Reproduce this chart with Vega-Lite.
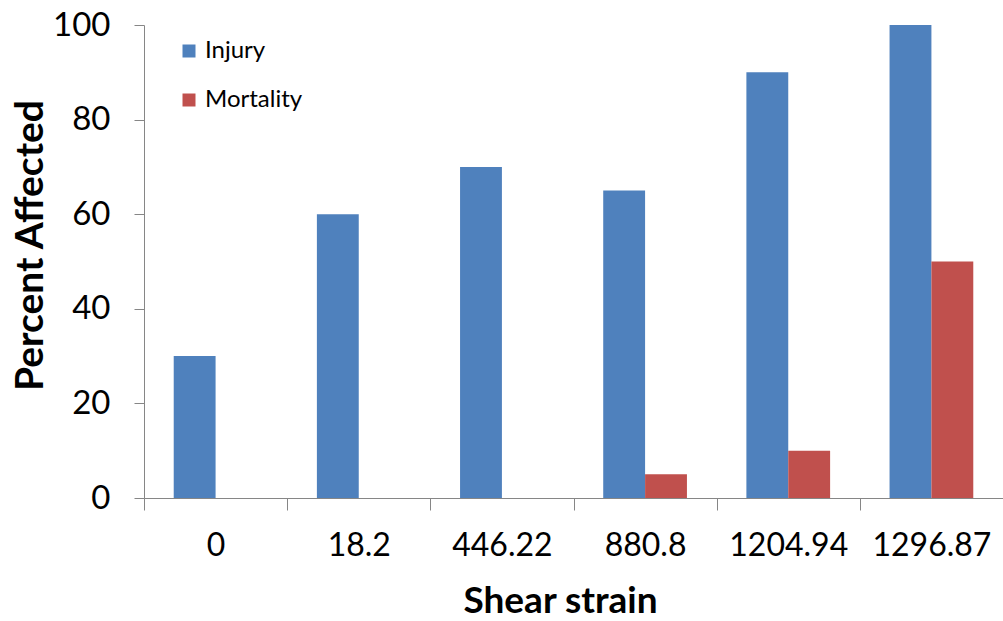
{
  "$schema": "https://vega.github.io/schema/vega-lite/v6.json",
  "width": 859,
  "height": 473,
  "autosize": {"type": "none"},
  "padding": {"left": 144, "top": 25, "right": 0, "bottom": 123},
  "background": "white",
  "config": {"view": {"stroke": null}, "font": "Lato"},
  "data": {
    "values": [
      {"strain": "0", "measure": "Injury", "percent": 30},
      {"strain": "0", "measure": "Mortality", "percent": 0},
      {"strain": "18.2", "measure": "Injury", "percent": 60},
      {"strain": "18.2", "measure": "Mortality", "percent": 0},
      {"strain": "446.22", "measure": "Injury", "percent": 70},
      {"strain": "446.22", "measure": "Mortality", "percent": 0},
      {"strain": "880.8", "measure": "Injury", "percent": 65},
      {"strain": "880.8", "measure": "Mortality", "percent": 5},
      {"strain": "1204.94", "measure": "Injury", "percent": 90},
      {"strain": "1204.94", "measure": "Mortality", "percent": 10},
      {"strain": "1296.87", "measure": "Injury", "percent": 100},
      {"strain": "1296.87", "measure": "Mortality", "percent": 50}
    ]
  },
  "mark": {"type": "bar"},
  "encoding": {
    "x": {
      "field": "strain",
      "type": "nominal",
      "sort": null,
      "scale": {"paddingInner": 0, "paddingOuter": 0},
      "axis": {
        "title": "Shear strain",
        "labelAngle": 0,
        "tickBand": "extent",
        "tickSize": 12,
        "tickColor": "#868686",
        "domainColor": "#868686",
        "labelFontSize": 32,
        "labelColor": "#000000",
        "labelPadding": 20,
        "titleFontSize": 37,
        "titleFontWeight": "bold",
        "titleColor": "#000000",
        "titleX": 416,
        "titleY": 103,
        "titleBaseline": "middle",
        "titleAlign": "center"
      }
    },
    "xOffset": {
      "field": "measure",
      "type": "nominal",
      "sort": ["Injury", "Mortality"],
      "scale": {"paddingInner": 0, "paddingOuter": 0.71}
    },
    "y": {
      "field": "percent",
      "type": "quantitative",
      "scale": {"domain": [0, 100]},
      "axis": {
        "title": "Percent Affected",
        "values": [0, 20, 40, 60, 80, 100],
        "grid": false,
        "tickSize": 10,
        "tickColor": "#868686",
        "domainColor": "#868686",
        "labelFontSize": 33,
        "labelColor": "#000000",
        "labelPadding": 24,
        "titleFontSize": 39,
        "titleFontWeight": "bold",
        "titleColor": "#000000",
        "titleAngle": -90,
        "titleX": -114,
        "titleY": 220,
        "titleBaseline": "middle",
        "titleAlign": "center"
      }
    },
    "color": {
      "field": "measure",
      "type": "nominal",
      "sort": ["Injury", "Mortality"],
      "scale": {"domain": ["Injury", "Mortality"], "range": ["#4F81BD", "#C0504D"]},
      "legend": {
        "title": null,
        "orient": "none",
        "legendX": 33,
        "legendY": 14,
        "symbolType": "square",
        "symbolSize": 169,
        "symbolStrokeWidth": 0,
        "labelFontSize": 24,
        "labelColor": "#000000",
        "labelOffset": 4,
        "rowPadding": 25
      }
    }
  }
}
